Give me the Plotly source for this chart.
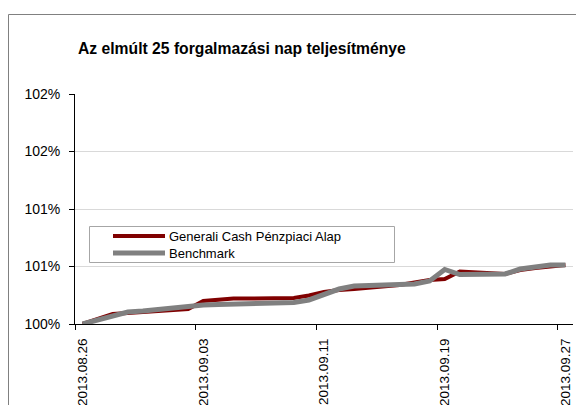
import plotly.graph_objects as go

# ---- data ----
dates = ["2013-08-26", "2013-08-27", "2013-08-28", "2013-08-29", "2013-08-30",
         "2013-09-02", "2013-09-03", "2013-09-04", "2013-09-05", "2013-09-06",
         "2013-09-09", "2013-09-10", "2013-09-11", "2013-09-12", "2013-09-13",
         "2013-09-16", "2013-09-17", "2013-09-18", "2013-09-19", "2013-09-20",
         "2013-09-23", "2013-09-24", "2013-09-25", "2013-09-26", "2013-09-27"]
fund = [100.000, 100.043, 100.087, 100.096, 100.104,
        100.130, 100.200, 100.213, 100.222, 100.222,
        100.226, 100.248, 100.278, 100.296, 100.304,
        100.339, 100.357, 100.383, 100.391, 100.457,
        100.435, 100.470, 100.487, 100.504, 100.513]
bench = [100.000, 100.035, 100.070, 100.104, 100.113,
         100.157, 100.165, 100.170, 100.174, 100.178,
         100.187, 100.209, 100.261, 100.304, 100.330,
         100.339, 100.348, 100.374, 100.474, 100.430,
         100.435, 100.478, 100.491, 100.513, 100.513]
series_names = ["Generali Cash Pénzpiaci Alap", "Benchmark"]
title_text = "Az elmúlt 25 forgalmazási nap teljesítménye"
x_label_dates = ["2013-08-26", "2013-09-03", "2013-09-11", "2013-09-19", "2013-09-27"]
x_label_text = ["2013.08.26", "2013.09.03", "2013.09.11", "2013.09.19", "2013.09.27"]
y_tick_vals = [100, 100.5, 101, 101.5, 102]
y_tick_text = ["100%", "101%", "101%", "102%", "102%"]

# ---- layout geometry (screen pixels; page body has an 8px margin) ----
OFF = 8
SW, SH = 584, 405
W, H = SW - OFF, SH - OFF
L, R, T, B = 75, 573, 94, 324          # plot area in screen pixels
PW, PH = R - L, B - T

def px(x):
    return (x - L) / PW

def py(y):
    return (B - y) / PH

FONT = "Liberation Sans, Arial, sans-serif"
RED = "#800000"
GRAY = "#808080"

noon = lambda d: d + " 12:00"

fig = go.Figure()
fig.add_trace(go.Scatter(x=[noon(d) for d in dates], y=fund, mode="lines",
                         name=series_names[0], line=dict(color=RED, width=4)))
fig.add_trace(go.Scatter(x=[noon(d) for d in dates], y=bench, mode="lines",
                         name=series_names[1], line=dict(color=GRAY, width=5)))

fig.update_layout(
    width=W, height=H,
    margin=dict(l=L - OFF, r=SW - R, t=T - OFF, b=SH - B, pad=0, autoexpand=False),
    paper_bgcolor="white", plot_bgcolor="white",
    showlegend=False,
    font=dict(family=FONT, size=14, color="black"),
)

fig.update_xaxes(
    type="date",
    automargin=False,
    range=["2013-08-26 00:00", "2013-09-28 00:00"],
    tickmode="array",
    tickvals=[noon(d) for d in x_label_dates],
    ticktext=x_label_text,
    tickangle=-90,
    ticks="",
    ticklabelstandoff=8,
    showgrid=False,
    showline=True, linecolor="black", linewidth=1,
    zeroline=False,
    tickfont=dict(size=13.5),
    minor=dict(tickmode="array",
               tickvals=[d + " 00:00" for d in x_label_dates],
               ticks="outside", ticklen=5, tickcolor="black", tickwidth=1,
               showgrid=False),
)
fig.update_yaxes(
    automargin=False,
    range=[100, 102],
    tickmode="array",
    tickvals=y_tick_vals,
    ticktext=y_tick_text,
    ticks="outside", ticklen=5, tickcolor="black",
    ticklabelstandoff=6,
    showgrid=True, gridcolor="#d9d9d9", gridwidth=1,
    showline=True, linecolor="black", linewidth=1,
    zeroline=False,
    tickfont=dict(size=14),
)

shapes = []
# outer chart border
shapes.append(dict(type="rect", xref="paper", yref="paper",
                   x0=px(8.5), y0=py(14.5), x1=px(SW + 40), y1=py(SH + 40),
                   line=dict(color="#808080", width=1), fillcolor="rgba(0,0,0,0)",
                   layer="above"))
# legend box
shapes.append(dict(type="rect", xref="paper", yref="paper",
                   x0=px(89.5), y0=py(262.5), x1=px(394.5), y1=py(226.5),
                   line=dict(color="#a6a6a6", width=1), fillcolor="white",
                   layer="above"))
legend_rows = [(236, RED, 4), (253, GRAY, 5)]
annotations = []
for (ly, col, lw), name in zip(legend_rows, series_names):
    shapes.append(dict(type="line", xref="paper", yref="paper",
                       x0=px(113), x1=px(165), y0=py(ly), y1=py(ly),
                       line=dict(color=col, width=lw), layer="above"))
    annotations.append(dict(xref="paper", yref="paper", x=px(167), y=py(ly),
                            xanchor="left", yanchor="middle", showarrow=False,
                            text=name, font=dict(family=FONT, size=13, color="black")))

annotations.append(dict(xref="paper", yref="paper", x=px(76), y=py(48),
                        xanchor="left", yanchor="middle", showarrow=False,
                        text="<b>" + title_text + "</b>",
                        font=dict(family=FONT, size=15.7, color="black")))

fig.update_layout(shapes=shapes, annotations=annotations)

fig.write_html("out.html")
